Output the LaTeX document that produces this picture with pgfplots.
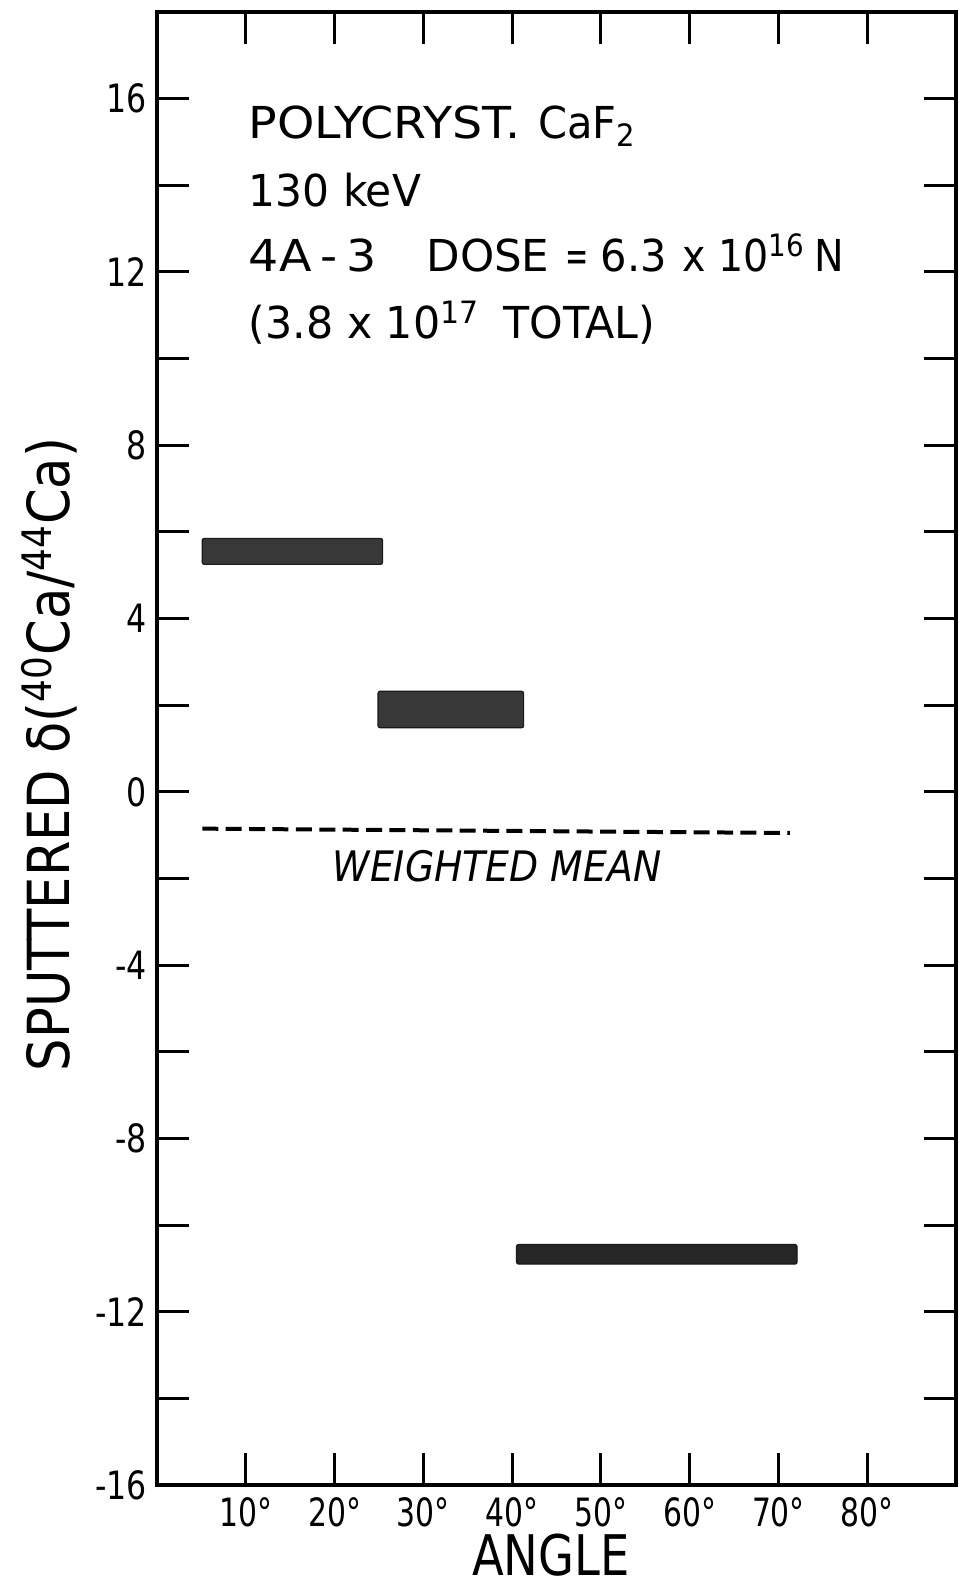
\documentclass[border=0pt]{standalone}
\usepackage{graphicx}
\usepackage{pgfplots}
\pgfplotsset{compat=1.18}
\usepackage{fontspec}
\setmainfont{DejaVu Sans Condensed}
\newcommand{\nx}[1]{\scalebox{0.85}[1]{#1}}
\newcommand{\ny}[1]{\scalebox{0.9}[1]{#1}}
\begin{document}
\begin{tikzpicture}
\path[use as bounding box] (-78.5pt,-51pt) rectangle (401pt,742.5pt);
\begin{axis}[
  scale only axis, width=399.5pt, height=736.5pt,
  xmin=0, xmax=90, ymin=-16, ymax=18,
  xtick={10,20,30,40,50,60,70,80},
  xticklabels={\nx{10°},\nx{20°},\nx{30°},\nx{40°},\nx{50°},\nx{60°},\nx{70°},\nx{80°}},
  ytick={-16,-12,-8,-4,0,4,8,12,16},
  yticklabels={\ny{-16},\ny{-12},\ny{-8},\ny{-4},\ny{0},\ny{4},\ny{8},\ny{12},\ny{16}},
  minor ytick={-14,-10,-6,-2,2,6,10,14},
  major tick length=16pt, minor tick length=16pt,
  tick align=inside,
  tick style={line width=1.5pt, black},
  axis line style={line width=1.6pt},
  ticklabel style={font=\fontsize{19.5}{19.5}\selectfont, inner sep=0pt},
  xticklabel style={yshift=-6pt},
  yticklabel style={xshift=-5pt},
  xlabel={\scalebox{0.92}[1]{ANGLE}},
  ylabel={\scalebox{0.98}[1]{SPUTTERED δ(\textsuperscript{40}Ca/\textsuperscript{44}Ca)}},
  xlabel style={font=\fontsize{28}{28}\selectfont, at={(axis description cs:0.5,0)}, anchor=base, xshift=-2.75pt, yshift=-45pt},
  ylabel style={font=\fontsize{29}{29}\selectfont, at={(axis description cs:0,0.5)}, anchor=base, yshift=43.5pt, xshift=-3pt},
]
\addplot[fill=black!78, draw=black!90, line width=0.6pt, rounded corners=1pt] coordinates {(5.1,5.25) (25.4,5.25) (25.4,5.85) (5.1,5.85)} -- cycle;
\addplot[fill=black!78, draw=black!90, line width=0.6pt, rounded corners=1pt] coordinates {(24.9,1.48) (41.3,1.48) (41.3,2.32) (24.9,2.32)} -- cycle;
\addplot[fill=black!85, draw=black!90, line width=0.6pt, rounded corners=1pt] coordinates {(40.5,-10.9) (72.1,-10.9) (72.1,-10.45) (40.5,-10.45)} -- cycle;
\addplot[black, line width=2pt, dash pattern=on 8pt off 3.7pt] coordinates {(5.1,-0.85) (71.3,-0.95)};
\node[font=\itshape\fontsize{21}{21}\selectfont, anchor=base] at (axis cs:38.3,-2.06) {WEIGHTED MEAN};
\node[font=\fontsize{22}{22}\selectfont, anchor=base west, inner sep=0pt] at (axis cs:10.3,15.09) {\scalebox{1.2}[1]{POLYCRYST.}\hspace{9pt}\scalebox{1.05}[1]{CaF\textsubscript{2}}};
\node[font=\fontsize{22}{22}\selectfont, anchor=base west, inner sep=0pt] at (axis cs:10.3,13.52) {\scalebox{1.07}[1]{130 keV}};
\node[font=\fontsize{22}{22}\selectfont, anchor=base west, inner sep=0pt] at (axis cs:10.3,12.02) {\scalebox{1.2}[1]{4A\,-\,3}\hspace{25pt}\scalebox{1.1}[1]{DOSE}\hspace{8pt}\scalebox{0.7}[1]{=}\hspace{6pt}\scalebox{1.05}[1]{6.3}\hspace{8pt}x\hspace{6pt}10\textsuperscript{16}\hspace{5pt}N};
\node[font=\fontsize{22}{22}\selectfont, anchor=base west, inner sep=0pt] at (axis cs:10.3,10.47) {\scalebox{1.08}[1]{(3.8 x 10\textsuperscript{17}}\hspace{12pt}\scalebox{1.08}[1]{TOTAL)}};
\end{axis}
\end{tikzpicture}
\end{document}
